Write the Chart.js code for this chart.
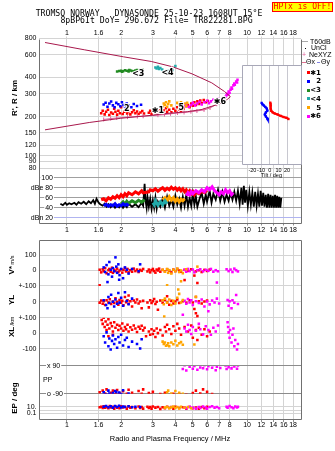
<!DOCTYPE html>
<html>
<head>
<meta charset="utf-8">
<script src="https://cdn.jsdelivr.net/npm/chart.js@4.4.1/dist/chart.umd.min.js"></script>
<style>
html,body{margin:0;padding:0;background:#fff;}
#wrap{position:relative;width:335px;height:451px;overflow:hidden;background:#fff;}
canvas{position:absolute;left:0;}
.mono{position:absolute;white-space:pre;font-family:"DejaVu Sans Mono","Liberation Mono",monospace;line-height:10px;color:#000;}
.sans{position:absolute;white-space:pre;font-family:"Liberation Sans",Arial,sans-serif;font-size:7px;line-height:8px;color:#000;}
.rot{position:absolute;white-space:pre;font-family:"Liberation Sans",Arial,sans-serif;font-weight:bold;font-size:8px;line-height:9px;color:#000;transform:translate(-50%,-50%) rotate(-90deg);}
.sq{position:absolute;width:3px;height:3px;}
.ln{position:absolute;height:1px;}
.lt{position:absolute;white-space:pre;font-family:"DejaVu Sans",sans-serif;font-weight:bold;font-size:7px;line-height:8px;text-align:right;width:12px;color:#000;}
</style>
</head>
<body>
<div id="wrap">
<canvas id="cMain" width="335" height="240" style="top:0px"></canvas>
<canvas id="cTilt" width="335" height="240" style="top:0px"></canvas>
<canvas id="cLow" width="335" height="215" style="top:236px"></canvas>

<div class="mono" style="left:0;width:298px;text-align:center;top:7.5px;font-size:8.2px">TROMSO NORWAY   DYNASONDE 25-10-23 1608UT 15°E</div>
<div class="mono" style="left:0;width:313px;text-align:center;top:14.5px;font-size:8.2px">8pBP6It DoY= 296.672 File= TR822281.BPG</div>
<div style="position:absolute;left:272px;top:2px;width:61px;height:10px;box-sizing:border-box;border:1px solid #ff0000;background:#ffff00;"></div>
<div class="mono" style="left:272px;width:61px;text-align:center;top:2.2px;font-size:8px;color:#ff0000">HPTx is OFF!</div>

<div class="ln" style="left:302px;top:41px;width:6px;background:#a8a8a8"></div>
<div class="sans" style="left:310px;top:37.8px">T60dB</div>
<div class="ln" style="left:305px;top:48px;width:1px;background:#000"></div>
<div class="sans" style="left:311px;top:44.4px">UnCl</div>
<div class="sans" style="left:302px;top:51.1px;color:#e0609a">+</div>
<div class="sans" style="left:309px;top:51.1px">NeXYZ</div>
<div class="ln" style="left:302px;top:62px;width:4px;background:#e07090"></div>
<div class="sans" style="left:306px;top:58.4px">Θx</div>
<div class="ln" style="left:317px;top:62px;width:3px;background:#8080e0"></div>
<div class="sans" style="left:321px;top:58.4px">Θy</div>

<div class="sq" style="left:307px;top:71px;background:#ff0000"></div>
<div class="lt" style="left:309px;top:68.6px">✱1</div>
<div class="sq" style="left:307px;top:79.7px;background:#0000ff"></div>
<div class="lt" style="left:309px;top:77.3px">2</div>
<div class="sq" style="left:307px;top:88.5px;background:#228b22"></div>
<div class="lt" style="left:309px;top:86.1px">&lt;3</div>
<div class="sq" style="left:307px;top:97.2px;background:#22aaaa"></div>
<div class="lt" style="left:309px;top:94.8px">&lt;4</div>
<div class="sq" style="left:307px;top:106px;background:#ffa500"></div>
<div class="lt" style="left:309px;top:103.6px">5</div>
<div class="sq" style="left:307px;top:114.7px;background:#ff00ff"></div>
<div class="lt" style="left:309px;top:112.3px">✱6</div>

<div class="rot" style="left:14px;top:98px">R', R / km</div>
<div class="rot" style="left:12px;top:265px">V*<span style="font-size:5.5px;font-weight:normal"> m/s</span></div>
<div class="rot" style="left:11px;top:300px">YL</div>
<div class="rot" style="left:12px;top:321px;font-size:5.5px;font-weight:normal">/km</div>
<div class="rot" style="left:11px;top:332px">XL</div>
<div class="rot" style="left:14px;top:398px">EP / deg</div>
</div>

<script>
// ---------- axis tick values / labels ----------
const freqTicks  = [1, 1.5, 2, 3, 4, 5, 6, 7, 8, 10, 12, 14, 16, 18];
const freqLabels = ['1','1.6','2','3','4','5','6','7','8','10','12','14','16','18'];
const heightTicks  = [800,600,400,300,200,150,120,100,90,80];
const heightLabels = ['800','600','400','300','200','150','120','100','90','80'];
const dbTicks  = [20,40,60,80,100];
const dbLabels = ['dBn 20','40','60','dBe 80','100'];
const tiltTicks  = [-20,-10,0,10,20];
const velTicks = [100,0];           const velLabels = ['100','0'];
const ylTicks  = [100,0];           const ylLabels  = ['+-100','0'];
const xlTicks  = [100,0,-100];      const xlLabels  = ['+-100','0','-100'];
const ppTicks  = [90,0,-90];        const ppLabels  = ['x 90','PP','o -90'];
const epTicks  = [10,1,0.1];        const epLabels  = ['10.','','0.1'];

// ---------- top panel: virtual height (km) vs frequency (MHz) ----------
const modelCurve = [[0.756,745],[1.248,655],[2.06,578],[2.94,532],[3.86,484],[4.95,427],[6.37,364],[7.5,312],[8.08,285],[7.79,272],[7.04,251],[5.62,227],[4.66,218],[3.4,210],[3.0,205],[1.99,194],[1.33,180],[0.756,158]];
const neXYZ = [[1.6,190],[1.75,193],[1.89,195],[2.17,198],[2.46,200],[2.65,201],[3.2,205],[3.48,207],[3.76,210],[4.11,213],[4.47,215],[4.88,218],[5.27,221],[5.77,225],[6.23,233],[6.79,249],[7.39,268]];
const heightRed = [[1.55,212],[1.58,222],[1.62,208],[1.65,218],[1.69,226],[1.72,206],[1.76,215],[1.8,210],[1.83,230],[1.86,218],[1.9,207],[1.93,222],[1.97,212],[2.0,236],[2.04,209],[2.08,218],[2.12,226],[2.16,211],[2.2,220],[2.25,208],[2.3,216],[2.35,224],[2.4,212],[2.45,219],[2.5,209],[2.56,215],[2.62,221],[2.68,211],[2.85,214],[2.9,222],[2.95,210],[3.0,218],[3.05,226],[3.1,213],[3.2,220],[3.3,229],[3.35,215],[3.45,223],[3.55,232],[3.6,218],[3.7,226],[3.8,216],[3.9,230],[4.0,222],[4.1,236],[4.2,226],[4.3,219],[4.45,231],[4.6,240],[4.7,246],[4.8,236],[4.9,252],[5.0,242],[5.1,258],[5.2,246],[5.3,262],[5.4,250],[5.5,266],[5.6,254],[5.75,268],[5.9,258],[6.05,264]];
const heightBlue = [[1.6,248],[1.64,256],[1.68,238],[1.72,252],[1.76,261],[1.8,244],[1.84,236],[1.88,255],[1.93,249],[1.98,240],[2.02,258],[2.06,246],[2.1,238],[2.15,252],[2.2,244],[2.28,236],[2.35,250],[2.45,241],[2.58,247]];
const heightGreen = [[1.9,446],[1.95,450],[2.0,452],[2.05,448],[2.1,455],[2.15,451],[2.2,445],[2.25,453],[2.3,450],[2.35,447],[2.4,454],[2.45,457],[2.5,452],[2.55,458],[2.62,461],[2.02,444],[2.22,458]];
const heightTeal = [[3.1,478],[3.15,470],[3.2,484],[3.25,466],[3.3,473],[3.38,462],[3.6,455],[3.65,447],[3.72,452],[3.8,445],[3.86,458],[4.0,490]];
const heightOrange = [[3.4,240],[3.45,252],[3.5,246],[3.55,258],[3.6,238],[3.65,250],[3.7,262],[3.8,244],[4.1,255],[4.2,248],[4.3,258],[4.4,245],[4.5,252],[4.6,242],[4.65,256]];
const heightMagenta = [[4.5,242],[4.6,250],[4.75,238],[4.9,246],[5.0,255],[5.15,244],[5.3,252],[5.45,260],[5.6,248],[5.8,258],[6.0,265],[6.15,254],[6.3,262],[6.5,270],[6.7,262],[6.9,274],[7.1,266],[7.3,276],[7.5,282],[7.6,284],[7.7,292],[7.75,300],[7.85,296],[7.9,312],[8.0,305],[8.1,322],[8.2,335],[8.25,328],[8.4,348],[8.5,360],[8.55,352],[8.7,372],[8.8,366],[8.85,384]];
const markText   = ['✱1','2','<3','<4','5','✱6'];
const markFreq   = [3.2,2.15,2.49,3.62,4.32,7.07];
const markHeight = [222,231,427,432,232,261];

// ---------- tilt inset ----------
const tiltBlue = [[-9.4,254],[-8.5,248],[-6.8,242],[-5.1,236],[-3.4,229],[-2.8,221],[-4.5,214],[-5.7,206],[-4.5,199],[-2.8,192],[-2.3,189]];
const tiltRed  = [[0.6,255],[1.1,242],[1.1,229],[1.7,220],[3.4,214],[5.7,210],[9.1,206],[12.5,201],[15.9,197],[19.3,194],[21.6,190]];

// ---------- amplitude panel (dB) ----------
const dbBlack = [[0.92,48],[0.95,45],[0.98,50],[1.0,46],[1.03,49],[1.06,47],[1.1,50],[1.13,46],[1.16,51],[1.2,48],[1.24,52],[1.28,47],[1.32,53],[1.36,49],[1.4,55],[1.43,48],[1.46,58],[1.5,50],[1.53,47],[1.58,44],[1.62,48],[1.66,42],[1.7,47],[1.75,41],[1.8,46],[1.85,40],[1.9,45],[1.95,41],[2.0,47],[2.05,40],[2.1,45],[2.15,41],[2.2,48],[2.3,42],[2.4,47],[2.5,41],[2.6,50],[2.65,44],[2.7,88],[2.73,55],[2.77,40],[2.8,62],[2.85,42],[2.9,58],[2.95,38],[3.0,55],[3.05,40],[3.1,60],[3.15,38],[3.2,52],[3.3,42],[3.4,58],[3.5,40],[3.6,62],[3.7,44],[3.8,56],[3.9,42],[4.0,64],[4.1,46],[4.2,58],[4.3,40],[4.4,62],[4.5,44],[4.6,66],[4.7,42],[4.8,60],[4.9,44],[5.0,68],[5.1,46],[5.2,62],[5.3,42],[5.45,58],[5.6,70],[5.75,48],[5.9,66],[6.0,52],[6.2,74],[6.35,50],[6.5,68],[6.7,56],[6.9,76],[7.1,54],[7.3,72],[7.5,52],[7.7,66],[7.9,54],[8.1,70],[8.3,56],[8.5,72],[8.7,54],[8.9,74],[9.1,48],[9.3,80],[9.45,46],[9.6,84],[9.75,50],[9.9,76],[10.1,44],[10.3,72],[10.5,46],[10.7,70],[10.9,42],[11.1,72],[11.3,44],[11.5,68],[11.7,42],[11.9,74],[12.1,44],[12.3,70],[12.5,42],[12.7,66],[12.9,40],[13.1,68],[13.3,40],[13.5,66],[13.7,40],[13.9,64],[14.1,40],[14.3,66],[14.5,40],[14.7,64],[14.9,40],[15.1,62],[15.3,40],[15.5,60]];
const dbRed = [[1.55,56],[1.6,58],[1.65,54],[1.7,60],[1.75,57],[1.8,62],[1.85,59],[1.9,64],[1.95,60],[2.0,66],[2.05,62],[2.1,68],[2.15,64],[2.2,70],[2.3,66],[2.4,72],[2.5,68],[2.6,74],[2.65,70],[2.85,72],[2.9,76],[3.0,74],[3.1,78],[3.2,73],[3.3,77],[3.4,80],[3.5,75],[3.6,79],[3.7,76],[3.8,81],[3.9,77],[4.0,80],[4.1,75],[4.2,79],[4.3,74],[4.4,78],[4.5,72],[4.6,76],[4.7,70],[4.8,74],[4.9,68],[5.0,72],[5.1,66],[5.2,71],[5.4,68],[5.6,73],[5.8,70],[6.0,75]];
const dbBlue = [[1.6,44],[1.65,47],[1.7,43],[1.75,46],[1.8,44],[1.85,48],[1.9,43],[1.95,46],[2.0,44],[2.05,48],[2.1,45],[2.15,47],[2.2,44]];
const dbGreen = [[2.0,48],[2.05,52],[2.1,47],[2.15,53],[2.2,49],[2.3,54],[2.4,50],[2.5,55],[2.6,51],[2.7,56]];
const dbTeal = [[3.0,50],[3.05,46],[3.1,54],[3.2,45],[3.3,52],[3.4,46],[3.5,54],[3.6,48]];
const dbOrange = [[3.4,56],[3.5,60],[3.6,54],[3.7,62],[3.8,55],[3.9,60],[4.0,53],[4.1,58],[4.2,52],[4.3,57],[4.4,54],[4.5,58]];
const dbMagenta = [[4.6,64],[4.7,70],[4.8,66],[4.9,72],[5.0,68],[5.2,74],[5.4,70],[5.6,76],[5.8,72],[6.0,80],[6.2,76],[6.4,82],[6.6,74],[6.8,70],[7.0,66],[7.2,72],[7.4,68],[7.6,76],[7.8,70],[8.0,74],[8.2,66],[8.4,70]];

// ---------- lower panel: V* (m/s) ----------
const velRed = [[1.52,5],[1.55,-12],[1.58,8],[1.6,-5],[1.63,15],[1.66,-18],[1.7,2],[1.72,10],[1.75,-8],[1.78,18],[1.8,-15],[1.83,5],[1.86,-3],[1.9,12],[1.93,-10],[1.96,0],[2.0,8],[2.03,-14],[2.06,4],[2.1,16],[2.13,-6],[2.17,10],[2.2,-12],[2.25,2],[2.3,-8],[2.35,12],[2.4,-4],[2.45,6],[2.5,-10],[2.55,4],[2.6,-2],[2.65,10],[2.8,-6],[2.85,6],[2.9,-12],[2.95,2],[3.0,10],[3.05,-4],[3.1,-14],[3.15,6],[3.2,0],[3.25,12],[3.3,-8],[3.4,4],[3.5,-6],[3.6,8],[3.7,-2],[3.8,-12],[3.9,6],[4.0,-4],[4.1,10],[4.2,0],[4.3,-8],[4.5,4],[4.7,-2],[4.9,8],[5.2,-6],[5.4,2],[5.6,-10],[5.8,4],[6.0,-3],[6.2,6],[1.52,-96],[4.5,-62],[5.3,-81],[5.1,-33]];
const velBlue = [[1.6,20],[1.63,-10],[1.66,35],[1.7,-25],[1.72,55],[1.75,5],[1.78,-40],[1.8,15],[1.83,-5],[1.86,85],[1.88,25],[1.9,-15],[1.93,40],[1.96,-30],[2.0,10],[2.05,-50],[2.1,20],[2.15,5],[2.2,-20],[2.3,10],[2.5,-5],[2.55,40],[1.68,-75],[1.95,-60]];
const velOrange = [[3.4,5],[3.5,-8],[3.6,10],[3.65,-15],[3.7,2],[3.8,-20],[3.9,5],[4.0,-5],[4.1,12],[4.2,-10],[4.3,0],[4.4,-18],[3.6,-96],[4.3,-70],[5.3,25],[4.6,8]];
const velMagenta = [[4.5,5],[4.6,-8],[4.7,10],[4.8,-4],[5.0,6],[5.1,-12],[5.3,2],[5.5,8],[5.7,-6],[5.9,4],[6.1,-2],[6.3,10],[6.5,-8],[6.7,2],[6.9,-5],[7.7,8],[7.9,-4],[8.1,6],[8.3,-10],[8.5,12],[8.7,2],[8.9,-6],[6.8,-78]];
// ---------- YL (km) ----------
const ylRed = [[1.52,-5],[1.55,8],[1.58,-12],[1.6,4],[1.63,-20],[1.66,10],[1.7,-4],[1.73,16],[1.76,-14],[1.8,2],[1.83,-8],[1.86,22],[1.9,0],[1.93,-18],[1.96,12],[2.0,-6],[2.03,6],[2.06,-22],[2.1,30],[2.13,-2],[2.17,10],[2.2,-12],[2.25,4],[2.3,-30],[2.35,8],[2.4,-4],[2.45,14],[2.5,-10],[2.55,2],[2.6,-40],[2.65,6],[2.8,-4],[2.85,-35],[2.9,10],[2.95,-8],[3.0,4],[3.05,18],[3.1,-14],[3.15,0],[3.2,-50],[3.3,8],[3.4,-6],[3.5,12],[3.6,-2],[3.7,-18],[3.8,6],[3.9,-10],[4.0,2],[4.1,14],[4.2,-8],[4.4,4],[4.6,-6],[4.8,10],[5.0,-4],[5.1,-45],[5.2,-72],[5.3,-90],[5.4,4],[5.6,-10],[5.8,2],[6.0,8],[2.2,40],[3.6,35],[5.2,30]];
const ylBlue = [[1.6,10],[1.65,-20],[1.7,30],[1.72,-8],[1.76,45],[1.8,0],[1.83,-30],[1.86,15],[1.9,-12],[1.93,55],[1.96,-5],[2.0,25],[2.05,-25],[2.1,60],[2.15,5],[2.2,-15],[2.3,20],[1.68,-40]];
const ylOrange = [[3.4,10],[3.45,-15],[3.5,20],[3.6,-5],[3.7,14],[3.8,-20],[3.9,6],[4.0,-10],[4.1,25],[4.15,78],[4.2,50],[4.3,-4],[4.4,12],[3.47,-92],[5.2,32]];
const ylMagenta = [[4.5,6],[4.6,-12],[4.7,18],[4.8,-4],[4.9,10],[5.0,-20],[5.2,4],[5.4,-8],[5.6,14],[5.8,-30],[6.0,2],[6.2,-16],[6.4,8],[6.6,-4],[6.8,20],[7.0,-10],[7.8,12],[7.9,-25],[8.0,4],[8.2,-40],[8.3,10],[8.5,-6],[8.7,43],[8.9,-14],[4.4,-81],[6.1,-60]];
// ---------- XL (km) ----------
const xlRed = [[1.52,110],[1.54,127],[1.56,85],[1.58,60],[1.6,100],[1.62,40],[1.64,75],[1.66,20],[1.68,55],[1.7,90],[1.72,30],[1.75,65],[1.78,45],[1.8,10],[1.83,70],[1.86,35],[1.9,55],[1.93,20],[1.96,48],[2.0,30],[2.03,62],[2.06,15],[2.1,40],[2.13,25],[2.17,55],[2.2,10],[2.25,38],[2.3,22],[2.35,50],[2.4,30],[2.45,8],[2.5,42],[2.55,28],[2.6,48],[2.65,18],[2.7,35],[2.75,-20],[2.85,10],[2.9,-10],[2.95,25],[3.0,-5],[3.05,15],[3.1,-25],[3.15,30],[3.2,0],[3.3,20],[3.4,-15],[3.5,40],[3.55,10],[3.6,55],[3.7,25],[3.8,-5],[3.9,45],[4.0,15],[4.1,60],[4.2,30],[4.3,-10],[4.5,40],[4.7,10],[4.9,50],[5.0,-30],[5.1,127],[5.15,106],[5.2,20],[5.3,-45],[5.4,35],[5.6,-10],[5.8,25],[6.0,-20],[6.2,10],[1.7,-20],[1.8,-10]];
const xlBlue = [[1.6,-20],[1.63,-60],[1.66,5],[1.7,-85],[1.72,-35],[1.75,-106],[1.78,-50],[1.8,-15],[1.83,-70],[1.86,-40],[1.9,-95],[1.93,-25],[1.96,-60],[2.0,-10],[2.05,-80],[2.1,-45],[2.15,-30],[2.2,-90],[2.3,-55],[2.45,-70],[2.55,-100],[2.6,-40]];
const xlOrange = [[3.4,-55],[3.45,-70],[3.5,-60],[3.55,-82],[3.6,-78],[3.65,-65],[3.7,-85],[3.8,-60],[3.9,-72],[4.0,-50],[4.1,-80],[4.2,-66],[4.3,-58],[4.4,-75],[5.1,-74]];
const xlMagenta = [[4.5,30],[4.6,10],[4.7,55],[4.8,20],[4.9,-5],[5.0,40],[5.2,15],[5.4,60],[5.5,25],[5.7,-8],[5.9,45],[6.1,20],[6.3,-10],[6.5,35],[6.7,10],[6.9,50],[7.8,70],[7.85,40],[7.9,5],[8.0,-30],[8.05,20],[8.2,-60],[8.3,-10],[8.5,-85],[8.6,-45],[8.8,-106],[8.9,-70],[8.4,30]];
// ---------- PP (deg) ----------
const ppRed = [[1.52,-80],[1.55,-100],[1.58,-70],[1.6,-112],[1.63,-88],[1.66,-62],[1.7,-98],[1.73,-120],[1.76,-84],[1.8,-70],[1.83,-104],[1.86,-92],[1.9,-66],[1.93,-116],[1.96,-86],[2.0,-100],[2.05,-74],[2.1,-108],[2.15,-90],[2.2,-64],[2.25,-112],[2.3,-84],[2.4,-98],[2.5,-72],[2.55,-106],[2.6,-90],[2.65,-62],[2.8,-110],[2.85,-86],[2.9,-118],[2.95,-96],[3.0,-78],[3.1,-104],[3.2,-120],[3.3,-92],[3.4,-110],[3.5,-84],[3.7,-100],[3.8,-120],[3.9,-90],[4.0,-108],[4.2,-92],[4.4,-116],[4.6,-96],[4.8,-112],[5.0,-86],[5.2,-70],[5.3,-104],[5.4,-120],[5.5,-88],[5.7,-62],[5.8,-100],[6.0,-78],[6.2,-110],[6.4,-92]];
const ppBlue = [[1.6,-80],[1.65,-95],[1.7,-70],[1.75,-100],[1.8,-85],[1.85,-72],[1.9,-98],[1.95,-82],[2.0,-92],[2.05,-68],[2.1,-104],[2.2,-88],[1.72,-88],[1.88,-78]];
const ppOrange = [[3.5,-96],[3.6,-80],[3.7,-104],[3.8,-88],[3.9,-110],[4.0,-72],[4.1,-96],[4.2,-84],[4.3,-100],[4.4,-90],[3.65,-70]];
const ppMagenta = [[4.4,70],[4.5,95],[4.6,60],[4.8,85],[4.9,105],[5.0,72],[5.1,90],[5.3,65],[5.4,100],[5.5,80],[5.6,110],[5.7,75],[5.8,95],[6.0,68],[6.1,88],[6.2,104],[6.4,78],[6.5,96],[6.7,62],[6.8,84],[7.0,108],[7.1,76],[7.6,92],[7.7,70],[7.8,100],[7.9,82],[8.0,118],[8.2,74],[8.3,96],[8.5,86],[8.7,106],[8.8,72],[8.9,92]];
// ---------- EP (deg) ----------
const epRed = [[1.52,8],[1.55,12],[1.58,5],[1.6,15],[1.63,6],[1.66,10],[1.7,4],[1.73,18],[1.76,7],[1.8,11],[1.83,3],[1.86,14],[1.9,6],[1.93,9],[1.96,4],[2.0,16],[2.05,7],[2.1,11],[2.15,3],[2.2,13],[2.25,6],[2.3,9],[2.4,4],[2.5,14],[2.55,5],[2.6,10],[2.65,3],[2.8,12],[2.85,5],[2.9,9],[2.95,3],[3.0,14],[3.1,6],[3.2,10],[3.3,2.5],[3.4,8],[3.5,4],[3.6,12],[3.7,5],[3.8,9],[3.9,3],[4.0,11],[4.2,5],[4.4,8],[4.6,3],[4.8,10],[5.0,4],[5.2,7],[5.4,2.8],[5.6,9],[5.8,4],[6.0,12]];
const epBlue = [[1.6,12],[1.65,20],[1.7,8],[1.75,15],[1.8,6],[1.85,18],[1.9,10],[1.95,22],[2.0,7],[2.05,14],[2.1,9],[2.2,16],[2.3,8],[2.4,12],[2.55,10]];
const epOrange = [[3.5,6],[3.6,10],[3.7,4],[3.8,8],[3.9,13],[4.0,5],[4.1,9],[4.2,3.5],[4.3,11],[4.5,6],[4.7,9],[4.9,4]];
const epMagenta = [[4.5,8],[4.6,4],[4.8,12],[5.0,6],[5.2,3],[5.4,10],[5.5,5],[5.7,14],[5.9,7],[6.0,3],[6.2,9],[6.4,15],[6.6,6],[6.8,10],[7.0,4],[7.7,12],[7.8,6],[8.0,18],[8.2,8],[8.4,4],[8.6,14],[8.8,7],[8.9,11]];

// ---------- styling ----------
const COL = {red:'#ff0000', blue:'#0000ff', green:'#228b22', teal:'#22aaaa', orange:'#ffa500', magenta:'#ff00ff', black:'#000000'};
const GRID = '#d4d4d4', FRAME = '#707070', DBGRID = '#a0a0a0', DBN = '#b0b4f0', PPGRID = '#8c8c8c';
const FMIN = 0.746, FMAX = 19.93;
const FONT = '"Liberation Sans", Arial, sans-serif';

Chart.defaults.font.family = FONT;
Chart.defaults.font.size = 7;
Chart.defaults.color = '#000';
Chart.defaults.animation = false;

const pts = a => a.map(p => ({x: p[0], y: p[1]}));
const setTicks = vals => (scale) => { scale.ticks = vals.map(v => ({value: v})); };
const fitW = w => s => { s.width = w; s.paddingTop = 0; s.paddingBottom = 0; };
const fitH = h => s => { s.height = h; s.paddingLeft = 0; s.paddingRight = 0; };
const scatterSet = (data, color, axis, r) => ({data: pts(data), yAxisID: axis, pointStyle: 'rect', pointRadius: r || 1.8, pointBorderWidth: 0, backgroundColor: color, borderColor: color, showLine: false});
const lineSet = (data, color, axis, w) => ({data: pts(data), yAxisID: axis, showLine: true, pointRadius: 0, borderWidth: w, borderColor: color, backgroundColor: color});

const framePlugin = {
  id: 'frame',
  afterDraw(chart, args, opts) {
    const {left, top, right, bottom} = chart.chartArea;
    const ctx = chart.ctx;
    const l = Math.round(left) + 0.5, r = Math.round(right) + 0.5, t = Math.round(top) + 0.5, b = Math.round(bottom) + 0.5;
    ctx.save();
    ctx.strokeStyle = opts.color || FRAME; ctx.lineWidth = 1;
    ctx.beginPath();
    ctx.moveTo(l, t); ctx.lineTo(l, b); ctx.lineTo(r, b); ctx.lineTo(r, t);
    if (opts.top) ctx.lineTo(l, t);
    ctx.stroke();
    ctx.restore();
  }
};
const bgPlugin = {
  id: 'bg',
  beforeDraw(chart) {
    const {left, top, right, bottom} = chart.chartArea;
    chart.ctx.save(); chart.ctx.fillStyle = '#fff';
    chart.ctx.fillRect(left, top, right - left, bottom - top);
    chart.ctx.restore();
  }
};
// labels drawn inside the plot area, positioned through the axis scale
const inLabelPlugin = {
  id: 'inLabels',
  beforeDatasetsDraw(chart, args, opts) {
    const ctx = chart.ctx;
    ctx.save();
    ctx.font = '7px ' + FONT; ctx.textBaseline = 'middle'; ctx.textAlign = 'left';
    for (const it of opts.items) {
      const y = chart.scales[it.axis].getPixelForValue(it.value);
      const w = ctx.measureText(it.text).width;
      const x0 = it.align === 'right' ? it.x - w : it.x;
      ctx.fillStyle = '#fff'; ctx.fillRect(x0 - 1, y - 4, w + 2, 8);
      ctx.fillStyle = '#000'; ctx.fillText(it.text, x0, y);
    }
    ctx.restore();
  }
};
const markPlugin = {
  id: 'marks',
  afterDatasetsDraw(chart) {
    const ctx = chart.ctx, xs = chart.scales.x, ys = chart.scales.yR;
    ctx.save();
    ctx.font = 'bold 8px "DejaVu Sans", sans-serif'; ctx.textAlign = 'center'; ctx.textBaseline = 'middle';
    markText.forEach((t, i) => {
      const x = xs.getPixelForValue(markFreq[i]), y = ys.getPixelForValue(markHeight[i]);
      ctx.lineWidth = 2; ctx.strokeStyle = '#fff'; ctx.strokeText(t, x, y);
      ctx.fillStyle = '#000'; ctx.fillText(t, x, y);
    });
    ctx.restore();
  }
};

const freqAxis = (pos, h, extra) => Object.assign({
  type: 'logarithmic', position: pos, min: FMIN, max: FMAX,
  afterBuildTicks: setTicks(freqTicks),
  afterFit: fitH(h),
  ticks: {callback: (v, i) => freqLabels[i], autoSkip: false, maxRotation: 0, minRotation: 0, padding: 0},
  grid: {color: GRID, tickLength: 3, tickColor: '#909090'},
  border: {display: false}
}, extra || {});

// ---------- main (height + amplitude) chart ----------
const dbItems = dbTicks.map((v, i) => ({axis: 'yD', value: v, text: dbLabels[i], x: 53, align: 'right'}));
new Chart(document.getElementById('cMain'), {
  type: 'scatter',
  data: {datasets: [
    lineSet(modelCurve, '#a8184c', 'yR', 1),
    {data: pts(neXYZ), yAxisID: 'yR', showLine: true, borderWidth: 1, borderColor: '#e0609a', pointStyle: 'line', rotation: 90, pointRadius: 2, pointBorderWidth: 1, pointBorderColor: '#e0609a'},
    scatterSet(heightBlue, COL.blue, 'yR'),
    scatterSet(heightGreen, COL.green, 'yR'),
    scatterSet(heightTeal, COL.teal, 'yR'),
    scatterSet(heightOrange, COL.orange, 'yR'),
    scatterSet(heightMagenta, COL.magenta, 'yR'),
    scatterSet(heightRed, COL.red, 'yR'),
    lineSet(dbBlue, COL.blue, 'yD', 3),
    lineSet(dbGreen, COL.green, 'yD', 3),
    lineSet(dbTeal, COL.teal, 'yD', 3),
    lineSet(dbOrange, COL.orange, 'yD', 3),
    lineSet(dbMagenta, COL.magenta, 'yD', 3),
    lineSet(dbRed, COL.red, 'yD', 3),
    lineSet(dbBlack, COL.black, 'yD', 1.8)
  ]},
  options: {
    responsive: false, animation: false, events: [],
    layout: {padding: {left: 0, right: 34, top: 0, bottom: 0}},
    plugins: {legend: {display: false}, tooltip: {enabled: false}, frame: {top: false}, inLabels: {items: dbItems}},
    scales: {
      x: freqAxis('bottom', 17.5),
      xTop: freqAxis('top', 38.5, {grid: {drawOnChartArea: false, tickLength: 2, tickColor: GRID}, ticks: {callback: (v, i) => freqLabels[i], autoSkip: false, maxRotation: 0, minRotation: 0, padding: -1.2}}),
      yR: {type: 'logarithmic', position: 'left', stack: 'L', stackWeight: 133.3, weight: 2, min: 75, max: 800,
        afterBuildTicks: setTicks(heightTicks), afterFit: fitW(39),
        ticks: {callback: (v, i) => heightLabels[i], autoSkip: false, padding: 2.5},
        grid: {color: GRID, drawTicks: false}, border: {display: false}},
      yD: {type: 'linear', position: 'left', stack: 'L', stackWeight: 50.7, weight: 1, min: 10.4, max: 112,
        afterBuildTicks: setTicks(dbTicks), afterFit: fitW(39),
        ticks: {display: false},
        grid: {color: c => (c.tick && c.tick.value === 20) ? DBN : DBGRID, drawTicks: false}, border: {display: false}}
    }
  },
  plugins: [framePlugin, inLabelPlugin, markPlugin]
});

// ---------- tilt inset ----------
new Chart(document.getElementById('cTilt'), {
  type: 'scatter',
  data: {datasets: [
    Object.assign(scatterSet(tiltBlue, COL.blue, 'y', 1.6), {showLine: true, borderWidth: 2.2}),
    Object.assign(scatterSet(tiltRed, COL.red, 'y', 1.6), {showLine: true, borderWidth: 2.2})
  ]},
  options: {
    responsive: false, animation: false, events: [],
    layout: {padding: {left: 242, right: 34, top: 65, bottom: 56}},
    plugins: {legend: {display: false}, tooltip: {enabled: false}, frame: {top: true, color: '#a8a8b8'}},
    scales: {
      x: {type: 'linear', position: 'bottom', min: -32, max: 36,
        afterBuildTicks: setTicks(tiltTicks), afterFit: fitH(20),
        ticks: {font: {size: 5.5}, padding: 2.7, autoSkip: false, maxRotation: 0},
        grid: {color: '#c8c8d0', drawTicks: false}, border: {display: false},
        title: {display: true, text: 'Tilt / deg', font: {size: 5.5}, padding: {top: 0, bottom: 5.7}}},
      y: {type: 'logarithmic', display: false, min: 84.8, max: 501}
    }
  },
  plugins: [bgPlugin, framePlugin]
});

// ---------- lower chart ----------
const rows = [
  {axis: 'yV',  red: velRed, blue: velBlue, orange: velOrange, magenta: velMagenta},
  {axis: 'yYL', red: ylRed,  blue: ylBlue,  orange: ylOrange,  magenta: ylMagenta},
  {axis: 'yXL', red: xlRed,  blue: xlBlue,  orange: xlOrange,  magenta: xlMagenta},
  {axis: 'yPP', red: ppRed,  blue: ppBlue,  orange: ppOrange,  magenta: ppMagenta},
  {axis: 'yEP', red: epRed,  blue: epBlue,  orange: epOrange,  magenta: epMagenta}
];
const lowSets = [];
for (const k of ['blue', 'orange', 'magenta', 'red']) {
  for (const r of rows) lowSets.push(scatterSet(r[k], COL[k], r.axis, 1.8));
}
const yAxis = (opts) => Object.assign({
  position: 'left', stack: 'low', afterFit: fitW(39),
  grid: {color: GRID, drawTicks: false}, border: {display: false}
}, opts);
const ppItems = [
  {axis: 'yPP', value: ppTicks[0], text: ppLabels[0], x: 47, align: 'left'},
  {axis: 'yPP', value: ppTicks[1], text: ppLabels[1], x: 43, align: 'left'},
  {axis: 'yPP', value: ppTicks[2], text: ppLabels[2], x: 47, align: 'left'}
];
new Chart(document.getElementById('cLow'), {
  type: 'scatter',
  data: {datasets: lowSets},
  options: {
    responsive: false, animation: false, events: [],
    layout: {padding: {left: 0, right: 34, top: 1, bottom: 0}},
    plugins: {legend: {display: false}, tooltip: {enabled: false}, frame: {top: true}, inLabels: {items: ppItems}},
    scales: {
      x: freqAxis('bottom', 32, {
        ticks: {callback: (v, i) => freqLabels[i], autoSkip: false, maxRotation: 0, minRotation: 0, padding: -1.2},
        title: {display: true, text: 'Radio and Plasma Frequency / MHz', font: {size: 7.5}, padding: {top: 0, bottom: 7.5}}
      }),
      yV:  yAxis({type: 'linear', stackWeight: 46.7, weight: 5, min: -100, max: 197.5, afterBuildTicks: setTicks(velTicks),
        ticks: {callback: (v, i) => velLabels[i], autoSkip: false, padding: 2.5}}),
      yYL: yAxis({type: 'linear', stackWeight: 32.3, weight: 4, min: -100, max: 100, afterBuildTicks: setTicks(ylTicks),
        ticks: {callback: (v, i) => ylLabels[i], autoSkip: false, padding: 2.5}}),
      yXL: yAxis({type: 'linear', stackWeight: 49, weight: 3, min: -212, max: 100, afterBuildTicks: setTicks(xlTicks),
        ticks: {callback: (v, i) => xlLabels[i], autoSkip: false, padding: 2.5}}),
      yPP: yAxis({type: 'linear', stackWeight: 28.3, weight: 2, min: -90, max: 90, afterBuildTicks: setTicks(ppTicks),
        ticks: {display: false},
        grid: {color: c => (c.tick && c.tick.value === 0) ? 'rgba(0,0,0,0)' : PPGRID, drawTicks: false}}),
      yEP: yAxis({type: 'logarithmic', stackWeight: 25.7, weight: 1, min: 0.002, max: 110000, afterBuildTicks: setTicks(epTicks),
        ticks: {callback: (v, i) => epLabels[i], autoSkip: false, padding: 2.5}})
    }
  },
  plugins: [framePlugin, inLabelPlugin]
});
</script>
</body>
</html>
